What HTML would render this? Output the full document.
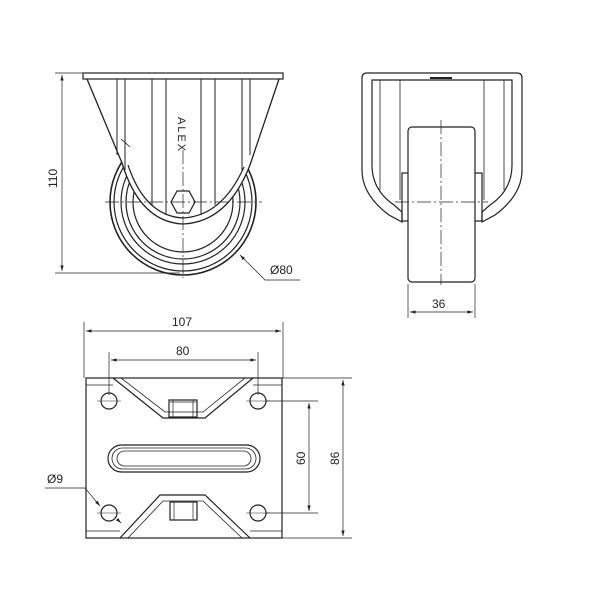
<!DOCTYPE html>
<html><head><style>body{margin:0;background:#fff}svg{display:block}text{font-family:"Liberation Sans",sans-serif;font-size:12px;fill:#222;stroke:none}</style></head>
<body>
<svg width="600" height="600" viewBox="0 0 600 600" xmlns="http://www.w3.org/2000/svg" fill="none" stroke="#222" stroke-width="1.2">
<defs><marker id="a" viewBox="0 0 10 6" refX="10" refY="3" markerWidth="8" markerHeight="5" orient="auto-start-reverse"><path d="M0,0L10,3L0,6Z" fill="#222" stroke="none"/></marker></defs>
<!-- FRONT VIEW -->
<g>
<circle cx="183" cy="202" r="73" stroke-width="1.6"/>
<circle cx="183" cy="202" r="69"/>
<circle cx="183" cy="202" r="62"/>
<circle cx="183" cy="202" r="57"/>
<circle cx="183" cy="202" r="50"/>
<path d="M87,79 L122,163 Q140,222 183,224 Q228,222 250,165 L279,79" fill="#fff" stroke-width="1.3"/>
<path d="M128,165 Q145,216 183,218 Q222,216 244,167"/>
<rect x="83" y="73" width="200" height="6" fill="#fff"/>
<g stroke-width="1">
<path d="M117,79V155M125,79V170M152,79V205M166,79V215M201,79V215M215,79V205M242,79V170M250,79V155"/>
</g>
<polygon points="171,202 177,191 189,191 195,202 189,213 177,213" fill="#fff"/>
<path d="M105,202H262M183,150V278" stroke-width="0.7" stroke-dasharray="14,3,2,3"/>
<path d="M121,139 L130,147" stroke-width="0.8"/>
<text x="0" y="0" transform="translate(178,117) rotate(90)" style="font-size:11px;letter-spacing:2px">ALEX</text>
<!-- 110 dim -->
<path d="M55,73H90M55,273H180" stroke-width="0.7"/>
<path d="M62,75V271" stroke-width="0.7" marker-start="url(#a)" marker-end="url(#a)"/>
<text transform="translate(57,188) rotate(-90)">110</text>
<path d="M240,255L265,280H300" stroke-width="0.7" marker-start="url(#a)"/>
<text x="270" y="274">Ø80</text>
</g>
<!-- SIDE VIEW -->
<g>
<path d="M362,78 Q362,73 367,73 H517 Q522,73 522,78 V170 Q522,195 495,215 L482,222 L482,212 L490,205 Q512,190 512,165 V80 H372 V165 Q372,190 394,205 L402,212 L402,222 L389,215 Q362,195 362,170 Z" fill="#fff"/>
<path d="M380,80V190M504,80V190M400,80V200M484,80V200" stroke-width="0.8"/>
<path d="M430,78H452" stroke-width="2"/>
<rect x="402" y="173" width="8" height="48"/>
<rect x="474" y="173" width="8" height="48"/>
<rect x="408" y="127" width="67" height="155" rx="4" fill="#fff"/>
<path d="M441,120V285M395,202H488" stroke-width="0.7" stroke-dasharray="14,3,2,3"/>
<path d="M408,284V318M475,284V318" stroke-width="0.7"/>
<path d="M410,312H473" stroke-width="0.7" marker-start="url(#a)" marker-end="url(#a)"/>
<text x="432" y="308">36</text>
</g>
<!-- BOTTOM VIEW -->
<g>
<rect x="86" y="378" width="196" height="160" fill="#fff"/>
<path d="M86,385H113M253,385H282M86,531H120M250,531H282" stroke-width="0.8"/>
<path d="M113,378 L163,418 H205 L253,378" />
<path d="M121,378 L165,412 H203 L245,378" stroke-width="0.8"/>
<path d="M120,538 L160,495 H205 L250,538"/>
<path d="M128,538 L163,501 H203 L242,538" stroke-width="0.8"/>
<rect x="169" y="400" width="28" height="17"/>
<path d="M173,400V417M193,400V417M170,402H196" stroke-width="0.7"/>
<rect x="170" y="502" width="27" height="18"/>
<path d="M174,502V520M193,502V520" stroke-width="0.7"/>
<rect x="108" y="445" width="152" height="27" rx="13.5"/>
<rect x="112" y="448" width="144" height="21" rx="10.5" stroke-width="0.8"/>
<rect x="117" y="451" width="134" height="15" rx="7.5" stroke-width="0.8"/>
<circle cx="109" cy="401" r="8"/><circle cx="258" cy="401" r="8"/>
<circle cx="109" cy="513" r="8"/><circle cx="258" cy="513" r="8"/>
<path d="M97,401H121M246,401H270M97,513H121M246,513H270" stroke-width="0.6"/>
<!-- dims -->
<path d="M84,322V378M283,322V378M109,352V395M258,352V395" stroke-width="0.7"/>
<path d="M86,331H281" stroke-width="0.7" marker-start="url(#a)" marker-end="url(#a)"/>
<text x="172" y="326">107</text>
<path d="M111,360H256" stroke-width="0.7" marker-start="url(#a)" marker-end="url(#a)"/>
<text x="176" y="355">80</text>
<path d="M282,378H352M282,538H352M266,401H318M266,513H318" stroke-width="0.7"/>
<path d="M343,380V536" stroke-width="0.7" marker-start="url(#a)" marker-end="url(#a)"/>
<path d="M309,403V511" stroke-width="0.7" marker-start="url(#a)" marker-end="url(#a)"/>
<text transform="translate(305,465) rotate(-90)">60</text>
<text transform="translate(339,465) rotate(-90)">86</text>
<path d="M45,488H85L100,506" stroke-width="0.7" marker-end="url(#a)"/>
<path d="M118,520L121,523" stroke-width="0.7" marker-end="url(#a)"/>
<text x="47" y="483">Ø9</text>
</g>
</svg>
</body></html>
